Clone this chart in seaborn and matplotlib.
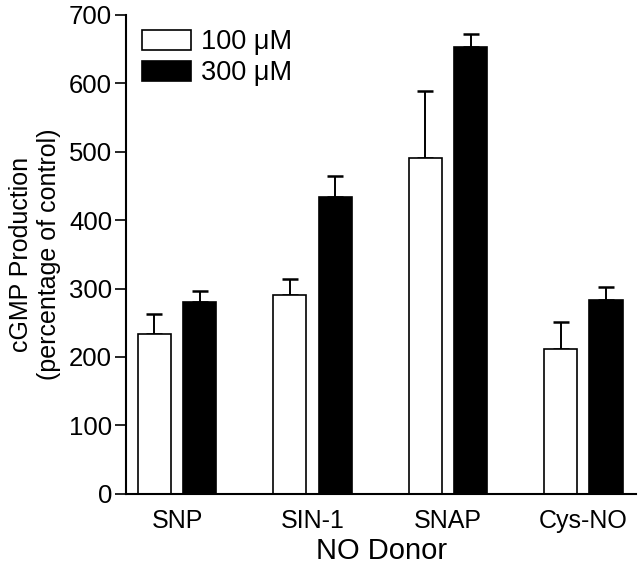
import numpy as np
import pandas as pd
import matplotlib
matplotlib.use("Agg")
import matplotlib.pyplot as plt
import seaborn as sns

# valori
donors = ["SNP", "SIN-1", "SNAP", "Cys-NO"]
conc_labels = ["100 \u03bcM", "300 \u03bcM"]
mean_100 = [233, 290, 490, 212]
sem_100 = [30, 24, 98, 39]
mean_300 = [281, 434, 653, 283]
sem_300 = [15, 30, 19, 19]

df = pd.DataFrame({
    "donor": donors * 2,
    "conc": [conc_labels[0]] * 4 + [conc_labels[1]] * 4,
    "value": mean_100 + mean_300,
})

sns.set_style("ticks", {"axes.edgecolor": "black", "text.color": "black",
                        "xtick.color": "black", "ytick.color": "black",
                        "axes.labelcolor": "black"})
plt.rcParams["font.family"] = ["Liberation Sans", "DejaVu Sans"]

fig = plt.figure(figsize=(6.4, 5.67), dpi=100)
ax = fig.add_axes([0.197, 0.129, 0.797, 0.845])

sns.barplot(data=df, x="donor", y="value", hue="conc", order=donors,
            hue_order=conc_labels, palette=["white", "black"],
            width=0.672, gap=0.27, errorbar=None, edgecolor="black",
            linewidth=1.2, saturation=1, ax=ax)

# barre di errore solo verso l'alto (sotto le barre, cosi' il cap inferiore non si vede)
bars = ax.patches[:8]
means = mean_100 + mean_300
sems = sem_100 + sem_300
xs = [b.get_x() + b.get_width() / 2 for b in bars]
ax.errorbar(xs, means, yerr=[np.zeros(8), sems], fmt="none", ecolor="black",
            elinewidth=1.4, capsize=6, capthick=1.8, zorder=0.5)

ax.set_ylim(0, 700)
ax.set_yticks(range(0, 701, 100))
ax.set_xlim(-0.377, 3.39)
ax.tick_params(axis="y", direction="out", length=8, width=1.2, labelsize=18.5, pad=2)
ax.tick_params(axis="x", length=0, labelsize=18, pad=11)
for s in ["left", "bottom"]:
    ax.spines[s].set_linewidth(1.5)
sns.despine(ax=ax)

ax.set_xlabel("NO Donor", fontsize=21, labelpad=3)
ax.set_ylabel("cGMP Production\n(percentage of control)", fontsize=18, labelpad=6)

leg = ax.legend(loc="upper left", bbox_to_anchor=(0.0, 1.004), frameon=False,
                fontsize=19.5, handlelength=1.8, handleheight=0.75,
                handletextpad=0.38, labelspacing=0.2, borderaxespad=0.2)

fig.savefig("out.png", dpi=100)
